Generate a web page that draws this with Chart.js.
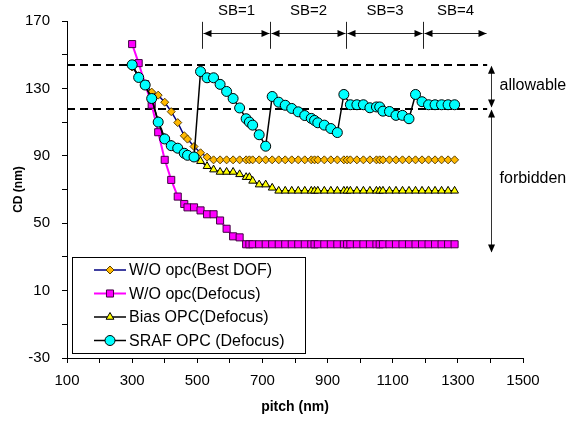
<!DOCTYPE html>
<html><head><meta charset="utf-8">
<script src="https://cdn.jsdelivr.net/npm/chart.js@4/dist/chart.umd.min.js"></script>
<style>html,body{margin:0;padding:0;background:#fff;}#wrap{width:571px;height:423px;}</style>
</head><body><div id="wrap"><canvas id="c" width="571" height="423"></canvas></div>
<script>
// ---- data (pitch in nm, CD in nm) ----
const pitch = [300,320,340,360,380,400,420,440,460,470,490,510,530,550,570,590,610,630,650,660,670,690,710,730,750,770,790,810,830,850,860,870,890,910,930,950,960,970,990,1010,1030,1050,1060,1070,1090,1110,1130,1150,1170,1190,1210,1230,1250,1270,1290];
const cdBestDOF = [142.7,137.5,132.5,127.8,126,121.8,116.2,109.7,101.9,99.9,95.5,91.8,89.2,87.6,87.6,87.6,87.6,87.6,87.6,87.6,87.6,87.6,87.6,87.6,87.6,87.6,87.6,87.6,87.6,87.6,87.6,87.6,87.6,87.6,87.6,87.6,87.6,87.6,87.6,87.6,87.6,87.6,87.6,87.6,87.6,87.6,87.6,87.6,87.6,87.6,87.6,87.6,87.6,87.6,87.6];
const cdDefocus = [156.3,145,132.5,120.3,104,87.6,75.7,65.8,61.4,59.4,59.4,57.6,55.3,55.3,51.6,46.7,42.2,41.6,37.5,37.5,37.5,37.5,37.5,37.5,37.5,37.5,37.5,37.5,37.5,37.5,37.5,37.5,37.5,37.5,37.5,37.5,37.5,37.5,37.5,37.5,37.5,37.5,37.5,37.5,37.5,37.5,37.5,37.5,37.5,37.5,37.5,37.5,37.5,37.5,37.5];
const cdBiasOPC = [144,137,131.5,124,110.5,100.5,96.5,94,91.5,90,89,86.8,83.8,81.8,80.4,80.4,80.4,79,77.3,77.3,75.1,72.9,72.9,71,69.2,69.2,69.2,69.2,69.2,69.2,69.2,69.2,69.2,69.2,69.2,69.2,69.2,69.2,69.2,69.2,69.2,69.2,69.2,69.2,69.2,69.2,69.2,69.2,69.2,69.2,69.2,69.2,69.2,69.2,69.2];
const srafPitch = [300,320,340,360,380,400,420,440,460,470,490,510,530,550,570,590,610,630,650,660,670,690,710,730,750,770,790,810,830,850,860,870,890,910,930,950,970,990,1010,1030,1050,1060,1070,1090,1110,1130,1150,1170,1190,1210,1230,1250,1270,1290];
const cdSRAF = [144,136.5,132,124,110,100,96,94.5,91.5,90.3,89.3,140,136.3,136.3,132.4,128.2,124,118.4,112,110,108.2,102.5,95.7,125.2,121.8,120,118.1,116.1,113.9,112.2,111,109.6,108.2,106.2,103.8,126.4,120.3,120.3,120.3,118.5,119,119,116.5,116.3,114,114,112,126.4,122.1,120.3,120.3,120.3,120.3,120.3];
const seriesNames = ['W/O opc(Best DOF)','W/O opc(Defocus)','Bias OPC(Defocus)','SRAF OPC (Defocus)'];
// annotation values (data units)
const allowableLimits = [144, 118];
const forbiddenBottom = 32;
const sbBoundaries = [515, 723, 958, 1193, 1390];
const sbLabels = ['SB=1','SB=2','SB=3','SB=4'];

const FONT = '"Liberation Sans", Arial, sans-serif';
Chart.defaults.font.family = FONT;
Chart.defaults.color = '#000';

const toXY = (xs, ys) => xs.map((x, i) => ({x: x, y: ys[i]}));

function drawMarker(ctx, style, x, y, r, fill, stroke) {
  ctx.save();
  ctx.fillStyle = fill; ctx.strokeStyle = stroke; ctx.lineWidth = 1;
  ctx.beginPath();
  if (style === 'circle') { ctx.arc(x, y, r, 0, Math.PI * 2); }
  else if (style === 'rect') { const s = Math.SQRT1_2 * r; ctx.rect(x - s, y - s, 2 * s, 2 * s); }
  else if (style === 'rectRot') { ctx.moveTo(x, y - r); ctx.lineTo(x + r, y); ctx.lineTo(x, y + r); ctx.lineTo(x - r, y); ctx.closePath(); }
  else if (style === 'triangle') { const s = r * 3 / Math.sqrt(3), h = s * Math.sqrt(3) / 2; ctx.moveTo(x - s / 2, y + h / 3); ctx.lineTo(x + s / 2, y + h / 3); ctx.lineTo(x, y - 2 * h / 3); ctx.closePath(); }
  ctx.fill(); ctx.stroke();
  ctx.restore();
}

function arrowHead(ctx, x, y, dir) {
  const L = 8, W = 3.5;
  ctx.beginPath();
  if (dir === 'left') { ctx.moveTo(x, y); ctx.lineTo(x + L, y - W); ctx.lineTo(x + L, y + W); }
  if (dir === 'right') { ctx.moveTo(x, y); ctx.lineTo(x - L, y - W); ctx.lineTo(x - L, y + W); }
  if (dir === 'up') { ctx.moveTo(x, y); ctx.lineTo(x - W, y + L); ctx.lineTo(x + W, y + L); }
  if (dir === 'down') { ctx.moveTo(x, y); ctx.lineTo(x - W, y - L); ctx.lineTo(x + W, y - L); }
  ctx.closePath(); ctx.fill();
}

const annotationPlugin = {
  id: 'annot',
  beforeDatasetsDraw(chart) {
    const ctx = chart.ctx, xs = chart.scales.x, ys = chart.scales.y;
    ctx.save();
    ctx.strokeStyle = '#000'; ctx.lineWidth = 2; ctx.setLineDash([8, 5]);
    allowableLimits.forEach(v => {
      const py = Math.round(ys.getPixelForValue(v));
      ctx.beginPath(); ctx.moveTo(xs.getPixelForValue(100), py); ctx.lineTo(xs.getPixelForValue(1390), py); ctx.stroke();
    });
    ctx.restore();
  },
  afterDraw(chart) {
    const ctx = chart.ctx, xs = chart.scales.x, ys = chart.scales.y;
    ctx.save();
    // SB arrows
    const yArrow = Math.round(ys.getPixelForValue(163)) + 0.5;
    const yv1 = ys.getPixelForValue(169.5), yv2 = ys.getPixelForValue(153.5);
    ctx.strokeStyle = '#222'; ctx.fillStyle = '#000'; ctx.lineWidth = 1;
    for (let i = 0; i < 4; i++) {
      const px = Math.round(xs.getPixelForValue(sbBoundaries[i])) + 0.5;
      ctx.beginPath(); ctx.moveTo(px, yv1); ctx.lineTo(px, yv2); ctx.stroke();
    }
    for (let i = 0; i < 4; i++) {
      const a = Math.round(xs.getPixelForValue(sbBoundaries[i])) + 0.5;
      const b = Math.round(xs.getPixelForValue(sbBoundaries[i + 1])) + 0.5;
      ctx.beginPath(); ctx.moveTo(a + 1, yArrow); ctx.lineTo(b - 1, yArrow); ctx.stroke();
      arrowHead(ctx, a + 1, yArrow, 'left');
      arrowHead(ctx, b - 1, yArrow, 'right');
      ctx.font = '15px ' + FONT; ctx.textAlign = 'center'; ctx.textBaseline = 'middle';
      ctx.fillText(sbLabels[i], (a + b) / 2, ys.getPixelForValue(176));
    }
    // right vertical arrows
    const rx = Math.round(xs.getPixelForValue(1402)) + 0.5;
    const yTop = ys.getPixelForValue(allowableLimits[0]);
    const yMid = ys.getPixelForValue(allowableLimits[1]);
    const yBot = ys.getPixelForValue(forbiddenBottom);
    ctx.strokeStyle = '#333';
    ctx.beginPath(); ctx.moveTo(rx, yTop + 2); ctx.lineTo(rx, yMid - 2); ctx.stroke();
    ctx.beginPath(); ctx.moveTo(rx, yMid + 2); ctx.lineTo(rx, yBot - 2); ctx.stroke();
    arrowHead(ctx, rx, yTop + 1, 'up');
    arrowHead(ctx, rx, yMid - 1, 'down');
    arrowHead(ctx, rx, yMid + 1, 'up');
    arrowHead(ctx, rx, yBot - 1, 'down');
    ctx.font = '16px ' + FONT; ctx.textAlign = 'left'; ctx.textBaseline = 'middle'; ctx.fillStyle = '#000';
    ctx.fillText('allowable', xs.getPixelForValue(1428), ys.getPixelForValue(131.5));
    ctx.fillText('forbidden', xs.getPixelForValue(1428), ys.getPixelForValue(76.5));

    // legend box
    const ca = chart.chartArea;
    const bx = ca.left + 5, by = ca.bottom - 101, bw = 233, bh = 96;
    ctx.fillStyle = '#fff'; ctx.fillRect(bx, by, bw, bh);
    ctx.strokeStyle = '#000'; ctx.lineWidth = 1; ctx.setLineDash([]);
    ctx.strokeRect(bx + 0.5, by + 0.5, bw, bh);
    chart.data.datasets.forEach((ds, i) => {
      const ly = by + 13 + i * 23.5;
      ctx.strokeStyle = ds.borderColor; ctx.lineWidth = ds.borderWidth;
      ctx.beginPath(); ctx.moveTo(bx + 22, ly); ctx.lineTo(bx + 54, ly); ctx.stroke();
      drawMarker(ctx, ds.pointStyle, bx + 38, ly, ds.pointRadius, ds.pointBackgroundColor, ds.pointBorderColor);
      ctx.fillStyle = '#000'; ctx.font = '16px ' + FONT; ctx.textAlign = 'left'; ctx.textBaseline = 'middle';
      ctx.fillText(ds.label, bx + 57, ly + 1);
    });
    ctx.restore();
  }
};

new Chart(document.getElementById('c'), {
  type: 'line',
  data: {
    datasets: [
      {label: seriesNames[0], data: toXY(pitch, cdBestDOF), borderColor: '#000080', borderWidth: 1.5,
       pointStyle: 'rectRot', pointRadius: 4, pointBackgroundColor: '#FFB800', pointBorderColor: '#5a4000', pointBorderWidth: 1, order: 3},
      {label: seriesNames[1], data: toXY(pitch, cdDefocus), borderColor: '#FF00FF', borderWidth: 2,
       pointStyle: 'rect', pointRadius: 5, pointBackgroundColor: '#FF00FF', pointBorderColor: '#400040', pointBorderWidth: 1, order: 2},
      {label: seriesNames[2], data: toXY(pitch, cdBiasOPC), borderColor: '#000000', borderWidth: 1.5,
       pointStyle: 'triangle', pointRadius: 4.5, pointBackgroundColor: '#FFFF00', pointBorderColor: '#000000', pointBorderWidth: 1, order: 1},
      {label: seriesNames[3], data: toXY(srafPitch, cdSRAF), borderColor: '#000000', borderWidth: 1.5,
       pointStyle: 'circle', pointRadius: 5, pointBackgroundColor: '#00FFFF', pointBorderColor: '#000000', pointBorderWidth: 1, order: 0}
    ]
  },
  options: {
    responsive: false, animation: false, devicePixelRatio: 1,
    layout: {padding: {top: 21, right: 48, bottom: 0, left: 0}},
    plugins: {legend: {display: false}, tooltip: {enabled: false}},
    elements: {line: {tension: 0}},
    scales: {
      x: {
        type: 'linear', min: 100, max: 1500,
        ticks: {stepSize: 100, autoSkip: false, maxRotation: 0, padding: 9, font: {size: 15}, color: '#000',
                callback: v => ((Math.round(v) - 100) % 200 === 0 ? Math.round(v) : '')},
        grid: {drawOnChartArea: false, drawTicks: true, tickLength: 5, color: '#000'},
        border: {color: '#000', width: 1},
        title: {display: true, text: 'pitch (nm)', font: {size: 14, weight: 'bold'}, color: '#000', padding: {top: 4, bottom: 7}},
        afterFit: s => { s.height = 65; }
      },
      y: {
        min: -30, max: 170,
        ticks: {stepSize: 20, autoSkip: false, padding: 12, font: {size: 15}, color: '#000',
                callback: v => ((Math.round(v) + 30) % 40 === 0 ? Math.round(v) : '')},
        grid: {drawOnChartArea: false, drawTicks: true, tickLength: 5, color: '#000'},
        border: {color: '#000', width: 1},
        title: {display: true, text: 'CD (nm)', font: {size: 12, weight: 'bold'}, color: '#000', padding: {top: 11, bottom: 0}},
        afterFit: s => { s.width = 67; }
      }
    }
  },
  plugins: [annotationPlugin]
});
</script></body></html>
